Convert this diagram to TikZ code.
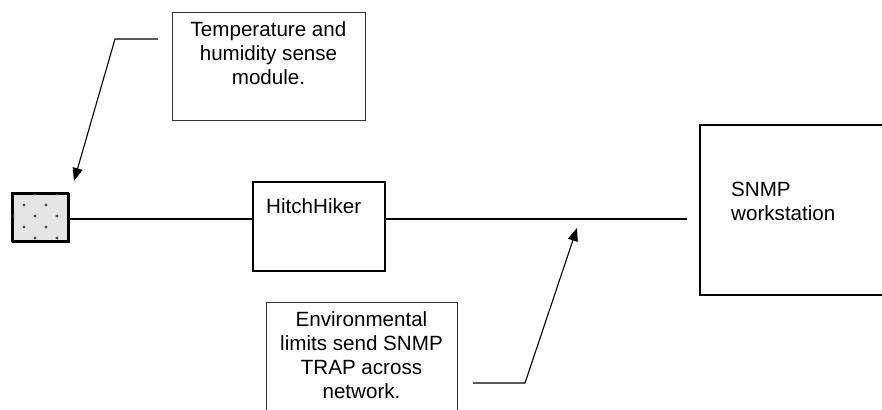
\documentclass[tikz,border=0pt]{standalone}
\usepackage{fontspec}
\setmainfont{Liberation Sans}
\usetikzlibrary{arrows.meta}
\begin{document}
\begin{tikzpicture}[x=1pt,y=-1pt,
  thinbox/.style={draw=black!80,line width=1.1pt,rectangle,inner sep=0pt,anchor=north west},
  thickbox/.style={draw=black,line width=2.4pt,rectangle,inner sep=0pt,anchor=north west},
  wire/.style={draw=black,line width=2.2pt},
  leader/.style={draw=black,line width=1.1pt,-{Triangle[length=13pt,width=10pt]}},
  lbl/.style={inner sep=0pt,font=\fontsize{20.6}{24}\selectfont},
  dotc/.style={fill=black!70}]
\path[use as bounding box,clip] (0,0) rectangle (882,409);
\fill[white] (0,0) rectangle (882,409);
% sensor square
\node[thickbox,fill=black!10,minimum width=56pt,minimum height=48pt] (sq) at (12,193) {};
\begin{scope}
\clip (12,193) rectangle (68,241);
\foreach \p in {(35,194),(57,194),(24,205),(46,205),(13,216),(35,216),(57,216),(24,227),(46,227),(35,238),(57,238)}
  \fill[dotc] \p circle (1.7);
\end{scope}
\draw[thickbox] (12,193) rectangle (68,241);
% boxes
\node[thinbox,minimum width=193pt,minimum height=108pt] (tb) at (172,12) {};
\node[lbl,align=center,anchor=north] (tbt) at (268.5,21.2) {Temperature and\\humidity sense\\module.};
\node[thickbox,minimum width=132pt,minimum height=89pt] (hh) at (252,181) {};
\node[lbl,anchor=base west] (hht) at (266,213) {HitchHiker};
\node[thickbox,minimum width=200pt,minimum height=170pt] (ws) at (699,124) {};
\node[lbl,align=left,anchor=north west] (wst) at (731,182.2) {SNMP\\workstation};
\node[thinbox,minimum width=191pt,minimum height=130pt] (eb) at (266,302) {};
\node[lbl,align=center,anchor=north] (ebt) at (361.5,311.2) {Environmental\\limits send SNMP\\TRAP across\\network.};
% wires
\coordinate (netend) at (687,219);
\draw[wire] (sq.east |- 0,219) -- (hh.west |- 0,219);
\draw[wire] (hh.east |- 0,219) -- (netend);
% leaders
\coordinate (a1) at (158,39);
\coordinate (a2) at (115,39);
\coordinate (a3) at (74,181);
\draw[leader] (a1) -- (a2) -- (a3);
\coordinate (b1) at (473,383);
\coordinate (b2) at (525,383);
\coordinate (b3) at (577,228);
\draw[leader] (b1) -- (b2) -- (b3);
\end{tikzpicture}
\end{document}
